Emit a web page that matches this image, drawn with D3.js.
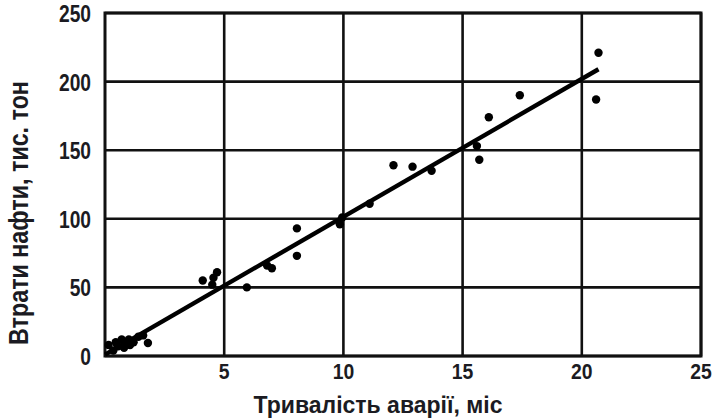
<!DOCTYPE html>
<html>
<head>
  <meta charset="utf-8">
  <script src="https://d3js.org/d3.v7.min.js"></script>
  <style>
    body { margin: 0; background: #fff; }
    svg text { font-family: "Liberation Sans", Arial, sans-serif; fill: #1b1b22; }
    .grid line { stroke: #111; stroke-width: 2.6px; }
    .tick-x { font-weight: bold; font-size: 22px; }
    .tick-y { font-weight: bold; font-size: 24px; }
    .title { font-weight: bold; font-size: 23px; }
  </style>
</head>
<body>
  <svg width="713" height="419"></svg>
  <script>
    // duration of accident, months
    var durations = [0.15, 0.35, 0.55, 0.7, 0.8, 1.05, 1.2, 1.4, 1.6, 1.8, 0.45, 1.0,
      4.1, 4.5, 4.55, 4.7, 5.95, 6.8, 7.0, 8.05, 8.05, 9.85, 9.95,
      11.1, 12.1, 12.9, 13.7, 15.6, 15.7, 16.1, 17.4, 20.6, 20.7];
    // oil losses, thousand tons
    var losses = [8, 4, 7, 12, 6, 8, 10, 14, 15, 9.5, 10, 12,
      55, 52, 57, 61, 50, 66, 64, 93, 73, 96, 101,
      111, 139, 138, 135, 153, 143, 174, 190, 187, 221];
    var fitX = [0, 20.7];
    var fitY = [1, 209];
    var xTicks = [5, 10, 15, 20, 25];
    var yTicks = [0, 50, 100, 150, 200, 250];

    var pLeft = 105, pRight = 701, pTop = 13, pBottom = 356;
    var svg = d3.select('svg');
    var x = d3.scaleLinear().domain([0, 25]).range([pLeft, pRight]);
    var y = d3.scaleLinear().domain([0, 250]).range([pBottom, pTop]);

    // grid
    var g = svg.append('g').attr('class', 'grid');
    g.selectAll('.vx').data(xTicks).enter().append('line')
      .attr('x1', d => x(d)).attr('x2', d => x(d))
      .attr('y1', pTop).attr('y2', pBottom);
    g.selectAll('.hy').data(yTicks).enter().append('line')
      .attr('x1', pLeft).attr('x2', pRight)
      .attr('y1', d => y(d)).attr('y2', d => y(d));
    svg.append('rect')
      .attr('x', pLeft).attr('y', pTop)
      .attr('width', pRight - pLeft).attr('height', pBottom - pTop)
      .attr('fill', 'none').attr('stroke', '#111').attr('stroke-width', 3);

    // fit line
    svg.append('line')
      .attr('x1', x(fitX[0])).attr('y1', y(fitY[0]))
      .attr('x2', x(fitX[1])).attr('y2', y(fitY[1]))
      .attr('stroke', '#000').attr('stroke-width', 4.4);

    // points
    svg.selectAll('circle').data(durations).enter().append('circle')
      .attr('cx', d => x(d))
      .attr('cy', (d, i) => y(losses[i]))
      .attr('r', 4.2)
      .attr('fill', '#000');

    // tick labels (slightly condensed like the source)
    svg.selectAll('.tick-x').data(xTicks).enter().append('text')
      .attr('class', 'tick-x')
      .attr('transform', d => 'translate(' + x(d) + ',379) scale(0.88,1)')
      .attr('text-anchor', 'middle')
      .text(d => d);
    svg.selectAll('.tick-y').data(yTicks).enter().append('text')
      .attr('class', 'tick-y')
      .attr('transform', d => 'translate(91,' + (y(d) + 9) + ') scale(0.8,1)')
      .attr('text-anchor', 'end')
      .text(d => d);

    // axis titles
    svg.append('text').attr('class', 'title')
      .attr('x', 378).attr('y', 413)
      .attr('text-anchor', 'middle')
      .text('Тривалість аварії, міс');
    svg.append('text').attr('class', 'title')
      .attr('transform', 'translate(28,213) rotate(-90) scale(0.97,1.15)')
      .attr('text-anchor', 'middle')
      .style('font-size', '24px')
      .text('Втрати нафти, тис. тон');
  </script>
</body>
</html>
